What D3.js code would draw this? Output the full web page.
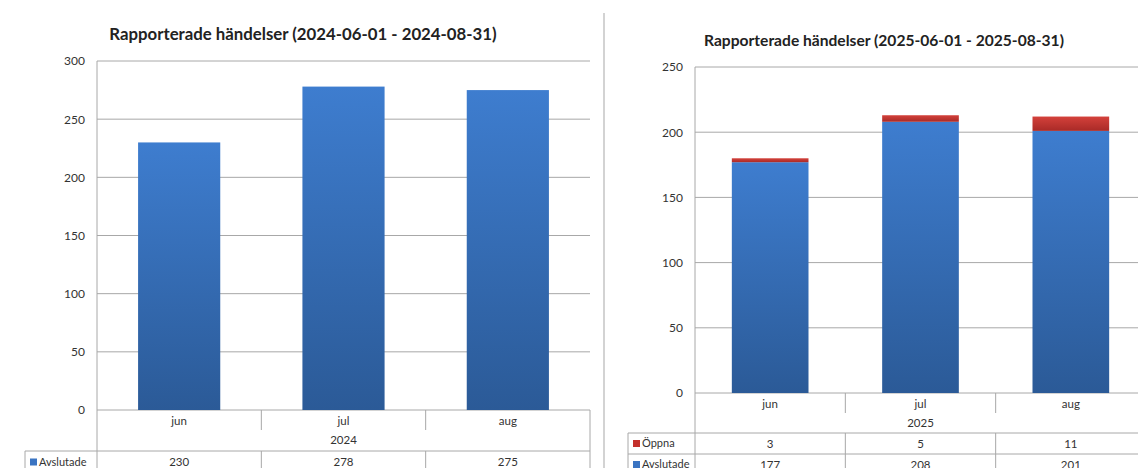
<!DOCTYPE html>
<html><head><meta charset="utf-8">
<script src="https://cdn.jsdelivr.net/npm/d3@7"></script>
<style>
html,body{margin:0;padding:0;background:#fff;}
svg{display:block;font-family:Lato,"Open Sans",sans-serif;}
</style></head>
<body>
<svg id="c" width="1138" height="468"></svg>
<script>
// ---- data ----
const months = ["jun", "jul", "aug"];
const years = ["2024", "2025"];
const titles = ["Rapporterade händelser (2024-06-01 - 2024-08-31)", "Rapporterade händelser (2025-06-01 - 2025-08-31)"];
const seriesNames = ["Avslutade", "Öppna"];
const avslutade2024 = [230, 278, 275];
const avslutade2025 = [177, 208, 201];
const oppna2025 = [3, 5, 11];
const yTicks2024 = [0, 50, 100, 150, 200, 250, 300];
const yTicks2025 = [0, 50, 100, 150, 200, 250];

const svg = d3.select("#c");
const defs = svg.append("defs");
function grad(id, c1, c2) {
  const g = defs.append("linearGradient").attr("id", id).attr("x1", 0).attr("y1", 0).attr("x2", 0).attr("y2", 1);
  g.append("stop").attr("offset", "0%").attr("stop-color", c1);
  g.append("stop").attr("offset", "100%").attr("stop-color", c2);
}
grad("gBlue", "#3e7dcf", "#2b5a97");
grad("gRed", "#d4413b", "#a92a27");
const BLUE = "#3a74c2", RED = "#c4302c";
const GRID = "#a8a8a8", TEXT = "#333";

// separator between the two charts
svg.append("line").attr("x1", 604).attr("x2", 604).attr("y1", 13).attr("y2", 468)
  .attr("stroke", "#c4c4c4").attr("stroke-width", 1.5);

function drawChart(o) {
  const g = svg.append("g");
  const x = d3.scaleBand().domain(months).range([o.left, o.right]).paddingInner(o.pad).paddingOuter(o.pad / 2);
  const y = d3.scaleLinear().domain([0, o.ymax]).range([o.bottom, o.top]);
  const step = x.step();
  const catLeft = m => x(m) - x.paddingOuter() * step;

  g.append("text").attr("x", o.titleX).attr("y", o.titleY).attr("text-anchor", "middle")
    .attr("font-weight", "bold").attr("font-size", o.titleSize).attr("fill", "#222").text(o.title);

  // gridlines
  const axis = d3.axisLeft(y).tickValues(o.ticks).tickSize(0).tickPadding(12);
  const ag = g.append("g").attr("transform", `translate(${o.left},0)`).call(axis);
  ag.select(".domain").remove();
  ag.selectAll("text").attr("font-size", 12).attr("fill", TEXT).attr("font-family", "Lato,sans-serif");
  g.append("g").selectAll("line").data(o.ticks).join("line")
    .attr("x1", o.left).attr("x2", o.right).attr("y1", d => y(d)).attr("y2", d => y(d))
    .attr("stroke", GRID).attr("stroke-width", 1);
  // left axis line (through table)
  g.append("line").attr("x1", o.left).attr("x2", o.left).attr("y1", o.top).attr("y2", 468)
    .attr("stroke", GRID);

  // bars
  const stack = d3.stack().keys(o.keys)(o.rows);
  stack.forEach((layer, li) => {
    g.append("g").selectAll("rect").data(layer).join("rect")
      .attr("x", d => x(d.data.m)).attr("width", x.bandwidth())
      .attr("y", d => y(d[1])).attr("height", d => y(d[0]) - y(d[1]))
      .attr("fill", o.fills[li]);
  });

  // table: month row
  const rowMonthY = o.bottom + 11, rowYearY = o.bottom + 30, tableLineY = o.bottom + o.yearRowH;
  g.append("g").selectAll("text").data(months).join("text")
    .attr("x", m => x(m) + x.bandwidth() / 2).attr("y", rowMonthY).attr("dy", "0.35em")
    .attr("text-anchor", "middle").attr("font-size", 11.5).attr("fill", TEXT).text(m => m);
  g.append("g").selectAll("line").data(months.slice(1)).join("line")
    .attr("x1", m => catLeft(m)).attr("x2", m => catLeft(m)).attr("y1", o.bottom).attr("y2", o.bottom + 20)
    .attr("stroke", GRID);
  g.append("text").attr("x", (o.left + o.right) / 2).attr("y", rowYearY).attr("dy", "0.35em")
    .attr("text-anchor", "middle").attr("font-size", 11.5).attr("fill", TEXT).text(o.year);
  if (o.rightBorder) {
    g.append("line").attr("x1", o.right).attr("x2", o.right).attr("y1", o.bottom).attr("y2", 468).attr("stroke", GRID);
  }

  // data rows
  o.tableRows.forEach((r, i) => {
    const top = tableLineY + i * o.rowH;
    g.append("line").attr("x1", o.legendLeft).attr("x2", o.right).attr("y1", top).attr("y2", top).attr("stroke", GRID);
    g.append("line").attr("x1", o.legendLeft).attr("x2", o.legendLeft).attr("y1", top).attr("y2", Math.min(468, top + o.rowH)).attr("stroke", GRID);
    g.append("rect").attr("x", o.legendLeft + 5).attr("y", top + o.rowH / 2 - 3.5).attr("width", 7).attr("height", 7).attr("fill", r.color);
    g.append("text").attr("x", o.legendLeft + 14).attr("y", top + o.rowH / 2).attr("dy", "0.35em")
      .attr("font-size", 11).attr("fill", TEXT).text(r.name);
    g.append("g").selectAll("text").data(r.values).join("text")
      .attr("x", (d, j) => x(months[j]) + x.bandwidth() / 2).attr("y", top + o.rowH / 2).attr("dy", "0.35em")
      .attr("text-anchor", "middle").attr("font-size", 11.5).attr("fill", TEXT).text(d => d);
    g.append("g").selectAll("line").data(months.slice(1)).join("line")
      .attr("x1", m => catLeft(m)).attr("x2", m => catLeft(m)).attr("y1", top).attr("y2", Math.min(468, top + o.rowH))
      .attr("stroke", GRID);
  });
}

drawChart({
  left: 97, right: 590, top: 61, bottom: 410, ymax: 300, ticks: yTicks2024, pad: 0.5,
  title: titles[0], titleX: 303, titleY: 40, titleSize: 16.8, year: years[0],
  keys: ["a"], rows: months.map((m, i) => ({ m, a: avslutade2024[i] })), fills: ["url(#gBlue)"],
  yearRowH: 41, rowH: 22, legendLeft: 25, rightBorder: true,
  tableRows: [{ name: seriesNames[0], color: BLUE, values: avslutade2024 }]
});

drawChart({
  left: 695, right: 1146, top: 67, bottom: 393, ymax: 250, ticks: yTicks2025, pad: 0.49,
  title: titles[1], titleX: 884, titleY: 46, titleSize: 15.6, year: years[1],
  keys: ["a", "o"], rows: months.map((m, i) => ({ m, a: avslutade2025[i], o: oppna2025[i] })), fills: ["url(#gBlue)", "url(#gRed)"],
  yearRowH: 40, rowH: 21, legendLeft: 628, rightBorder: false,
  tableRows: [
    { name: seriesNames[1], color: RED, values: oppna2025 },
    { name: seriesNames[0], color: BLUE, values: avslutade2025 }
  ]
});
</script>
</body></html>
